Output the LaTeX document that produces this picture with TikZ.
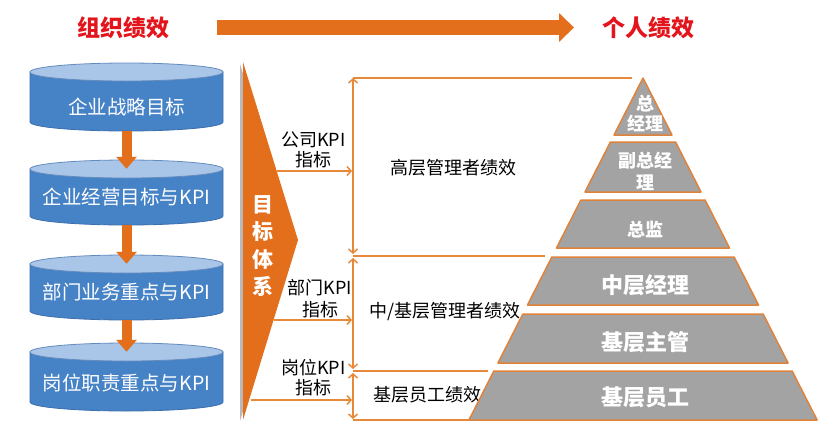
\documentclass[tikz,border=0pt]{standalone}
\usepackage{fontspec}
\setmainfont{Noto Sans CJK SC}
\usetikzlibrary{arrows.meta,calc}
\definecolor{titlered}{HTML}{E3141B}
\definecolor{bigorange}{HTML}{E36F1C}
\definecolor{lineorange}{HTML}{E8893A}
\definecolor{cylblue}{HTML}{4682C6}
\definecolor{cyltopblue}{HTML}{A9C5E8}
\definecolor{cyledge}{HTML}{3D6FAE}
\definecolor{pyrgray}{HTML}{A3A3A3}
\definecolor{pyredge}{HTML}{E0823A}
\newcommand\mycyl[3]{%
  \pgfmathsetmacro\cyltc{-(#1)-9}%
  \pgfmathsetmacro\cylbc{-(#2)+9}%
  \filldraw[cylbodystyle] (30,\cyltc) -- (30,\cylbc) arc[start angle=180,end angle=360,x radius=96.5,y radius=9] -- (223,\cyltc) -- cycle;
  \filldraw[cyltopstyle] (126.5,\cyltc) ellipse [x radius=96.5, y radius=9];
  \node[cylnode, minimum height={(#2)-(#1)}] (#3) at (126.5,{-((#1)+(#2))/2}) {};
}
\newcommand\pyrlev[3]{%
  \pgfmathsetmacro\pwa{0.509*((#1)-78)}%
  \pgfmathsetmacro\pwb{0.509*((#2)-78)}%
  \filldraw[pyrstyle] ({643-\pwa},-#1) -- ({643+\pwa},-#1) -- ({643+\pwb},-#2) -- ({643-\pwb},-#2) -- cycle;
  \coordinate (#3) at (643,{-((#1)+(#2))/2});
}
\begin{document}
\begin{tikzpicture}[x=1pt,y=1pt,
  titletext/.style={font=\fontsize{23}{25}\selectfont\bfseries, text=titlered, inner sep=0pt},
  cylbodystyle/.style={fill=cylblue, draw=cyledge, line width=0.8pt},
  cyltopstyle/.style={fill=cyltopblue, draw=cyledge!80, line width=0.8pt},
  cylnode/.style={rectangle, minimum width=193pt, inner sep=0pt, draw=none},
  cyltext/.style={font=\fontsize{19.5}{21}\selectfont, text=white, inner sep=0pt},
  flowarrow/.style={draw=bigorange, line width=10pt, -{Triangle[length=12pt,width=20pt]}},
  olines/.style={draw=lineorange, line width=1.5pt},
  oarrow/.style={olines, -{Straight Barb[length=4pt,width=9pt]}},
  odarrow/.style={olines, {Straight Barb[length=4pt,width=9pt]}-{Straight Barb[length=4pt,width=9pt]}},
  lbl/.style={font=\fontsize{18}{20}\selectfont, text=black, inner sep=0pt, align=center},
  pyrstyle/.style={fill=pyrgray, draw=pyredge, line width=1.5pt, line join=round},
  pyrsmall/.style={font=\fontsize{18}{20}\selectfont\bfseries, text=white, inner sep=0pt, align=center},
  pyrbig/.style={font=\fontsize{22}{24}\selectfont\bfseries, text=white, inner sep=0pt, align=center}
]
\fill[white] (0,0) rectangle (833,-424);
\useasboundingbox (0,0) rectangle (833,-424);

% titles and top arrow
\node[titletext] (torg) at (123,-28) {组织绩效};
\node[titletext] (tind) at (648,-28) {个人绩效};
\coordinate (ta) at (217,-27.5);
\coordinate (tb) at (574,-27.5);
\draw[bigorange, line width=15pt, -{Triangle[length=15pt,width=28pt]}] (ta) -- (tb);

% cylinders
\mycyl{63}{131}{c1}
\mycyl{160}{225}{c2}
\mycyl{255}{320}{c3}
\mycyl{343}{411}{c4}
\node[cyltext] (c1t) at (126.5,-107) {企业战略目标};
\node[cyltext] (c2t) at (126.5,-197) {企业经营目标与KPI};
\node[cyltext] (c3t) at (126.5,-292) {部门业务重点与KPI};
\node[cyltext] (c4t) at (126.5,-383) {岗位职责重点与KPI};
\draw[flowarrow] (c1.south) -- ($(c2.north)+(0,-9)$);
\draw[flowarrow] (c2.south) -- ($(c3.north)+(0,-9)$);
\draw[flowarrow] (c3.south) -- ($(c4.north)+(0,-9)$);

% goal system triangle
\fill[gray!55] (240,-64) -- (295,-242) -- (240,-421) -- cycle;
\fill[bigorange] (243,-62) -- (298,-240) -- (243,-420) -- cycle;
\node[font=\fontsize{21}{27.5}\selectfont\bfseries, text=white, inner sep=0pt, align=center] (goal) at (263,-246) {目\\标\\体\\系};

% brackets
\coordinate (v1t) at (353,-78);
\coordinate (v1b) at (353,-254);
\coordinate (v2t) at (353,-258);
\coordinate (v2b) at (353,-369);
\coordinate (v3t) at (353,-373);
\coordinate (v3b) at (353,-419);
\coordinate (h1e) at (632,-78);
\coordinate (h2s) at (353,-256);
\coordinate (h2e) at (545,-256);
\coordinate (h3s) at (353,-371);
\coordinate (h3e) at (488,-371);
\coordinate (h4s) at (353,-420);
\coordinate (h4e) at (472,-420);
\draw[olines] (v1t) -- (h1e);
\draw[olines] (h2s) -- (h2e);
\draw[olines] (h3s) -- (h3e);
\draw[olines] (h4s) -- (h4e);
\draw[odarrow] (v1t) -- (v1b);
\draw[odarrow] (v2t) -- (v2b);
\draw[odarrow] (v3t) -- (v3b);

% KPI arrows
\coordinate (k1s) at (277,-171);
\coordinate (k1e) at (352,-171);
\coordinate (k2s) at (274,-320);
\coordinate (k2e) at (352,-320);
\coordinate (k3s) at (251,-400);
\coordinate (k3e) at (352,-400);
\draw[oarrow] (k1s) -- (k1e);
\draw[oarrow] (k2s) -- (k2e);
\draw[oarrow] (k3s) -- (k3e);

% labels
\node[lbl] (l1) at (313.5,-150) {公司KPI\\指标};
\node[lbl, font=\fontsize{18}{22}\selectfont] (l2) at (320,-299) {部门KPI\\指标};
\node[lbl] (l3) at (313.5,-378) {岗位KPI\\指标};
\node[lbl] (p1) at (453,-168) {高层管理者绩效};
\node[lbl] (p2) at (445,-312) {中/基层管理者绩效};
\node[lbl] (p3) at (427,-395) {基层员工绩效};

% pyramid
\pyrlev{78}{135}{y1}
\pyrlev{142}{192}{y2}
\pyrlev{200}{248}{y3}
\pyrlev{257}{305}{y4}
\pyrlev{314}{363}{y5}
\pyrlev{371}{420}{y6}
\node[pyrsmall] (y1t) at (645,-113) {总\\经理};
\node[pyrsmall, font=\fontsize{18}{22}\selectfont\bfseries] (y2t) at (645,-171) {副总经\\理};
\node[pyrsmall] (y3t) at (645,-230) {总监};
\node[pyrbig] (y4t) at (645,-285) {中层经理};
\node[pyrbig] (y5t) at (645,-342) {基层主管};
\node[pyrbig] (y6t) at (645,-397) {基层员工};
\end{tikzpicture}
\end{document}
